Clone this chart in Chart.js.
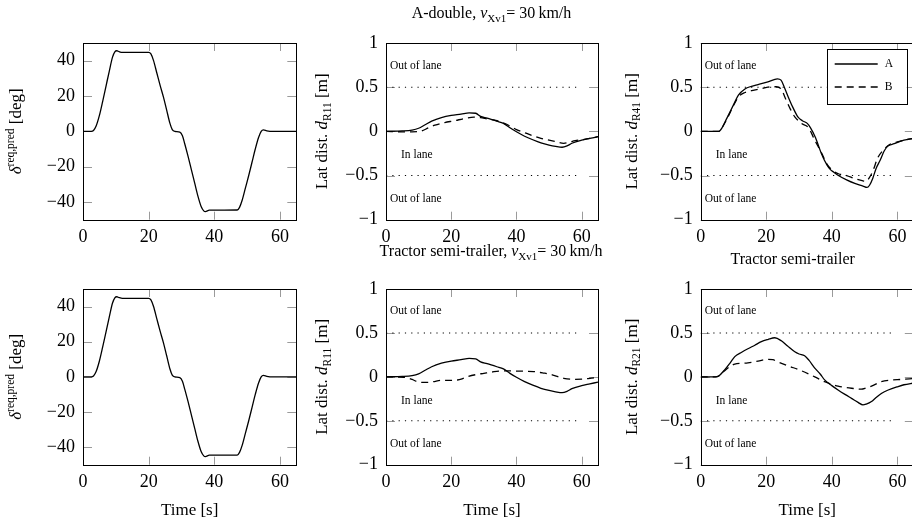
<!DOCTYPE html>
<html>
<head>
<meta charset="utf-8">
<script src="https://cdn.jsdelivr.net/npm/chart.js@4.4.1/dist/chart.umd.min.js"></script>
<style>
  html, body { margin: 0; padding: 0; background: #fff; overflow: hidden; }
  #page { position: relative; width: 912px; height: 523px; overflow: hidden; }
  canvas { position: absolute; }
</style>
</head>
<body>
<div id="page">
  <canvas id="steerTop" width="305" height="270" style="left:0px;top:0px"></canvas>
  <canvas id="r11Top" width="320" height="270" style="left:300px;top:0px"></canvas>
  <canvas id="r41Top" width="310" height="270" style="left:610px;top:0px"></canvas>
  <canvas id="steerBot" width="305" height="258" style="left:0px;top:265px"></canvas>
  <canvas id="r11Bot" width="320" height="258" style="left:300px;top:265px"></canvas>
  <canvas id="r21Bot" width="310" height="258" style="left:610px;top:265px"></canvas>
</div>
<script>
// tick values for the axes
const timeTicks = [0, 20, 40, 60]
const steerTicks = [-40, -20, 0, 20, 40]
const distTicks = [-1, -0.5, 0, 0.5, 1]

// steering angle, same manoeuvre for both vehicles [deg]
const steerTime = [0, 2.5, 3.2, 4, 5, 6, 7, 8, 9, 9.7, 10.3, 11, 12, 20, 20.7, 21.5, 22.5, 23.5, 24.5, 25.5, 26.5, 27.2, 28, 29.5, 30.3, 31, 32, 33, 34, 35, 36, 36.8, 37.3, 38.5, 47, 47.7, 48.5, 49.5, 50.5, 51.5, 52.5, 53.5, 54.3, 55, 56, 58, 65]
const steerAngle = [0, 0, 0.5, 3, 9, 17, 25.5, 34, 42, 45, 45.6, 45.1, 44.7, 44.7, 43.8, 40, 33, 26, 19.5, 12, 4.5, 1, 0, -0.4, -2.5, -7, -14, -21.5, -29, -36.5, -42.5, -45, -45.4, -44.6, -44.5, -43, -39, -32, -25, -17.5, -10, -3.5, 0, 0.8, 0.3, 0, 0]

// A-double, d_R11
const dR11TimeA = [0, 5, 8, 10, 12, 14, 17, 20, 23, 25.5, 27.5, 29, 31, 34, 36, 38, 40, 42.5, 45, 47.5, 50, 52, 54, 55.5, 57, 60, 62.5, 65]
const dR11A = [0, 0.005, 0.015, 0.035, 0.075, 0.115, 0.155, 0.18, 0.195, 0.21, 0.205, 0.17, 0.15, 0.115, 0.09, 0.04, -0.005, -0.055, -0.095, -0.13, -0.155, -0.17, -0.18, -0.165, -0.135, -0.1, -0.08, -0.06]
const dR11TimeB = [0, 5, 8, 10.5, 13, 15, 18, 21, 24, 27, 29, 31, 34, 37, 40, 42.5, 45, 47.5, 50, 52, 54.5, 56, 58, 60, 62.5, 65]
const dR11B = [0, -0.005, -0.005, 0, 0.04, 0.07, 0.1, 0.12, 0.145, 0.16, 0.155, 0.14, 0.12, 0.08, 0.02, -0.015, -0.05, -0.08, -0.1, -0.115, -0.135, -0.125, -0.105, -0.095, -0.08, -0.06]

// A-double, d_R41
const dR41TimeA = [0, 5.5, 6.5, 8, 10, 11.5, 13.5, 15.5, 17.5, 20.5, 23.4, 24.5, 25.5, 26.7, 28, 29.7, 31, 32.5, 33.5, 35, 36.8, 38.5, 39.5, 40.5, 42, 44.5, 47, 49.5, 50.7, 51.5, 52.5, 53.5, 54.7, 56, 57, 59, 62, 65]
const dR41A = [0, 0, 0.04, 0.15, 0.3, 0.41, 0.48, 0.51, 0.53, 0.56, 0.595, 0.58, 0.5, 0.39, 0.28, 0.16, 0.12, 0.09, 0.04, -0.07, -0.25, -0.38, -0.43, -0.46, -0.5, -0.55, -0.59, -0.62, -0.635, -0.61, -0.53, -0.42, -0.33, -0.22, -0.17, -0.14, -0.1, -0.08]
const dR41TimeB = [0, 5.5, 6.5, 8, 10, 11.5, 13.5, 15.5, 17.5, 20.5, 23, 24.5, 26, 27.5, 28.7, 30.7, 32.8, 34.8, 36.8, 38.5, 40.5, 42, 44.5, 47, 49.5, 50.5, 51.5, 52.5, 54, 56, 58, 60, 62, 65]
const dR41B = [0, 0, 0.04, 0.14, 0.29, 0.39, 0.44, 0.46, 0.475, 0.5, 0.505, 0.48, 0.36, 0.24, 0.165, 0.09, 0.045, -0.1, -0.24, -0.37, -0.45, -0.48, -0.5, -0.535, -0.56, -0.565, -0.52, -0.45, -0.3, -0.2, -0.14, -0.12, -0.1, -0.08]

// tractor semi-trailer, d_R11 (A is the same run as for the A-double)
const tsR11TimeA = dR11TimeA
const tsR11A = dR11A
const tsR11TimeB = [0, 5.5, 8, 9.6, 12.2, 14.5, 16.8, 19, 21.9, 23.5, 25, 27.5, 30, 32.5, 34.6, 37, 40.2, 42.5, 45.3, 48, 50.4, 52.5, 54.5, 57.6, 60.7, 63, 65]
const tsR11B = [0, -0.005, -0.03, -0.055, -0.063, -0.055, -0.04, -0.04, -0.036, -0.02, 0.002, 0.025, 0.04, 0.055, 0.066, 0.068, 0.066, 0.064, 0.06, 0.045, 0.03, 0.005, -0.017, -0.028, -0.025, -0.015, -0.01]

// tractor semi-trailer, d_R21
const tsR21TimeA = [0, 4.5, 5.5, 7.3, 9, 10.4, 12.5, 14.4, 16.5, 18.5, 20.5, 22.6, 24.6, 26.5, 28.7, 30, 31.7, 33, 34.8, 36.5, 37.8, 40, 41.9, 44, 46, 48, 49.5, 50.5, 52.1, 53.5, 55.1, 57.2, 60.2, 62, 65]
const tsR21A = [0, 0, 0.01, 0.08, 0.16, 0.23, 0.28, 0.32, 0.36, 0.4, 0.425, 0.445, 0.41, 0.35, 0.285, 0.26, 0.24, 0.19, 0.1, 0.03, -0.035, -0.1, -0.15, -0.2, -0.245, -0.29, -0.32, -0.31, -0.28, -0.235, -0.19, -0.15, -0.11, -0.09, -0.07]
const tsR21TimeB = [0, 4.5, 5.5, 7.3, 9, 10.4, 12.5, 14.4, 17.5, 20.5, 22, 23.6, 26.7, 30.7, 34.8, 37.8, 40, 41.9, 44, 46, 49, 50.5, 52.1, 55.1, 58.2, 61, 65]
const tsR21B = [0, 0, 0.01, 0.07, 0.12, 0.145, 0.155, 0.16, 0.18, 0.2, 0.195, 0.17, 0.125, 0.07, 0, -0.055, -0.085, -0.105, -0.12, -0.13, -0.14, -0.125, -0.105, -0.055, -0.035, -0.03, -0.02]

// lane limits and their labels
const laneTime = [0, 59]
const laneUpper = [0.5, 0.5]
const laneLower = [-0.5, -0.5]
const laneLabels = ["Out of lane", "In lane", "Out of lane"]
const laneLabelX = [1.2, 4.6, 1.2]
const laneLabelY = [0.745, -0.27, -0.76]

const legendNames = ["A", "B"]

const SERIF = '"Liberation Serif", "DejaVu Serif", serif'
const TICK_FONT = 18

function pts(times, values) {
  return times.map((t, i) => ({ x: t, y: values[i] }))
}

function curve(times, values, dashed) {
  return {
    data: pts(times, values),
    borderColor: '#000',
    borderWidth: 1.3,
    borderDash: dashed ? [7, 5] : [],
    pointRadius: 0,
    cubicInterpolationMode: 'monotone',
    order: 1
  }
}

function laneLine(values) {
  return {
    data: pts(laneTime, values),
    borderColor: '#000',
    borderWidth: 1.1,
    borderDash: [1.2, 5.1],
    pointRadius: 0,
    order: 2
  }
}

// text made of pieces with different size / italic / shift (sub- and superscripts)
function drawRuns(ctx, runs, x, y, rotate) {
  ctx.save()
  ctx.translate(x, y)
  if (rotate) ctx.rotate(-Math.PI / 2)
  ctx.textBaseline = 'alphabetic'
  ctx.textAlign = 'left'
  ctx.fillStyle = '#000'
  let total = 0
  runs.forEach(r => {
    ctx.font = (r.it ? 'italic ' : '') + r.s + 'px ' + SERIF
    r.w = ctx.measureText(r.t).width
    total += r.w
  })
  let cx = -total / 2
  runs.forEach(r => {
    ctx.font = (r.it ? 'italic ' : '') + r.s + 'px ' + SERIF
    ctx.fillText(r.t, cx, r.dy || 0)
    cx += r.w
  })
  ctx.restore()
}

const decor = {
  id: 'decor',
  beforeDatasetsDraw(chart, args, opts) {
    const ctx = chart.ctx
    const a = chart.chartArea
    const xs = chart.scales.x
    const ys = chart.scales.y
    // pgfplots style ticks pointing inwards on all four sides
    ctx.save()
    ctx.strokeStyle = '#9a9a9a'
    ctx.lineWidth = 1
    ctx.beginPath()
    xs.ticks.forEach(t => {
      const px = Math.round(xs.getPixelForValue(t.value)) + 0.5
      ctx.moveTo(px, a.bottom); ctx.lineTo(px, a.bottom - 8)
      ctx.moveTo(px, a.top); ctx.lineTo(px, a.top + 8)
    })
    ys.ticks.forEach(t => {
      const py = Math.round(ys.getPixelForValue(t.value)) + 0.5
      ctx.moveTo(a.left, py); ctx.lineTo(a.left + 9, py)
      ctx.moveTo(a.right, py); ctx.lineTo(a.right - 9, py)
    })
    ctx.stroke()
    ctx.restore()
  },
  afterDatasetsDraw(chart, args, opts) {
    const ctx = chart.ctx
    const a = chart.chartArea
    const xs = chart.scales.x
    const ys = chart.scales.y
    ctx.save()
    ctx.strokeStyle = '#000'
    ctx.lineWidth = 1
    ctx.strokeRect(Math.round(a.left) + 0.5, Math.round(a.top) + 0.5, Math.round(a.right - a.left), Math.round(a.bottom - a.top))

    if (opts.lane) {
      ctx.fillStyle = '#000'
      ctx.font = '11.5px ' + SERIF
      ctx.textBaseline = 'middle'
      ctx.textAlign = 'left'
      laneLabels.forEach((s, i) => {
        ctx.fillText(s, xs.getPixelForValue(laneLabelX[i]), ys.getPixelForValue(laneLabelY[i]))
      })
    }

    if (opts.legend) {
      const lx = a.left + 126, ly = a.top + 6
      ctx.fillStyle = '#fff'
      ctx.fillRect(lx, ly, 80, 55)
      ctx.strokeRect(Math.round(lx) + 0.5, Math.round(ly) + 0.5, 80, 55)
      ctx.lineWidth = 1.3
      ;[[], [7, 5]].forEach((dash, i) => {
        const yy = ly + 15 + i * 23
        ctx.setLineDash(dash)
        ctx.beginPath()
        ctx.moveTo(lx + 8, yy); ctx.lineTo(lx + 51, yy)
        ctx.stroke()
        ctx.setLineDash([])
        ctx.fillStyle = '#000'
        ctx.font = '11.5px ' + SERIF
        ctx.textBaseline = 'middle'
        ctx.fillText(legendNames[i], lx + 58, yy)
      })
    }
    ctx.restore()

    if (opts.yTitle) drawRuns(ctx, opts.yTitle, a.left - opts.yTitleGap, (a.top + a.bottom) / 2, true)
    if (opts.xTitle) drawRuns(ctx, [{ t: 'Time [s]', s: 17 }], (a.left + a.right) / 2, a.bottom + 50, false)
    ;(opts.texts || []).forEach(tx => drawRuns(ctx, tx.runs, tx.x, tx.y, false))
  }
}

function fmt(v) {
  return String(v).replace('-', '\u2212')
}

function makeChart(id, cfg) {
  new Chart(document.getElementById(id), {
    type: 'line',
    data: { datasets: cfg.datasets },
    options: {
      responsive: false,
      animation: false,
      devicePixelRatio: 1,
      layout: { padding: cfg.padding },
      plugins: {
        legend: { display: false },
        tooltip: { enabled: false },
        decor: cfg.decor
      },
      scales: {
        x: {
          type: 'linear',
          min: 0,
          max: 65,
          grid: { display: false, drawTicks: false },
          border: { display: false },
          afterBuildTicks: s => { s.ticks = timeTicks.map(v => ({ value: v })) },
          afterFit: s => { s.height = 30 },
          ticks: { font: { family: SERIF, size: TICK_FONT }, color: '#000', padding: 7, maxRotation: 0, callback: fmt }
        },
        y: {
          type: 'linear',
          min: cfg.yMin,
          max: cfg.yMax,
          grid: { display: false, drawTicks: false },
          border: { display: false },
          afterBuildTicks: s => { s.ticks = cfg.yTicks.map(v => ({ value: v })) },
          afterFit: s => { s.width = 60 },
          ticks: { font: { family: SERIF, size: TICK_FONT }, color: '#000', padding: 8, callback: fmt }
        }
      }
    },
    plugins: [decor]
  })
}

const steerTitle = [{ t: '\u03b4', s: 17, it: true }, { t: 'req,pred', s: 11.5, dy: -7 }, { t: ' [deg]', s: 17 }]
function latTitle(sub) {
  return [{ t: 'Lat dist. ', s: 17 }, { t: 'd', s: 17, it: true }, { t: sub, s: 11.5, dy: 3.5 }, { t: ' [m]', s: 17 }]
}
function speedTitle(name) {
  return [{ t: name + ', ', s: 16 }, { t: 'v', s: 16, it: true }, { t: 'Xv1', s: 11, dy: 3.5 }, { t: '= 30\u2009km/h', s: 16 }]
}

// row 1: A-double
makeChart('steerTop', {
  datasets: [curve(steerTime, steerAngle, false)],
  yMin: -50, yMax: 50, yTicks: steerTicks,
  padding: { left: 23, top: 43, right: 8.7, bottom: 20.3 },
  decor: { yTitle: steerTitle, yTitleGap: 62 }
})
makeChart('r11Top', {
  datasets: [curve(dR11TimeA, dR11A, false), curve(dR11TimeB, dR11B, true), laneLine(laneUpper), laneLine(laneLower)],
  yMin: -1, yMax: 1, yTicks: distTicks,
  padding: { left: 26, top: 43, right: 22, bottom: 20.3 },
  decor: {
    lane: true, yTitle: latTitle('R11'), yTitleGap: 59,
    texts: [
      { runs: speedTitle('A-double'), x: 191.5, y: 18 },
      { runs: speedTitle('Tractor semi-trailer'), x: 191, y: 256 }
    ]
  }
})
makeChart('r41Top', {
  datasets: [curve(dR41TimeA, dR41A, false), curve(dR41TimeB, dR41B, true), laneLine(laneUpper), laneLine(laneLower)],
  yMin: -1, yMax: 1, yTicks: distTicks,
  padding: { left: 30.7, top: 43, right: 6.2, bottom: 20.3 },
  decor: {
    lane: true, legend: true, yTitle: latTitle('R41'), yTitleGap: 64,
    texts: [{ runs: [{ t: 'Tractor semi-trailer', s: 16 }], x: 182.7, y: 264 }]
  }
})

// row 2: tractor semi-trailer
makeChart('steerBot', {
  datasets: [curve(steerTime, steerAngle, false)],
  yMin: -50, yMax: 50, yTicks: steerTicks,
  padding: { left: 23, top: 24, right: 8.7, bottom: 28.3 },
  decor: { yTitle: steerTitle, yTitleGap: 62, xTitle: true }
})
makeChart('r11Bot', {
  datasets: [curve(tsR11TimeA, tsR11A, false), curve(tsR11TimeB, tsR11B, true), laneLine(laneUpper), laneLine(laneLower)],
  yMin: -1, yMax: 1, yTicks: distTicks,
  padding: { left: 26, top: 24, right: 22, bottom: 28.3 },
  decor: { lane: true, yTitle: latTitle('R11'), yTitleGap: 59, xTitle: true }
})
makeChart('r21Bot', {
  datasets: [curve(tsR21TimeA, tsR21A, false), curve(tsR21TimeB, tsR21B, true), laneLine(laneUpper), laneLine(laneLower)],
  yMin: -1, yMax: 1, yTicks: distTicks,
  padding: { left: 30.7, top: 24, right: 6.2, bottom: 28.3 },
  decor: { lane: true, yTitle: latTitle('R21'), yTitleGap: 64, xTitle: true }
})
</script>
</body>
</html>
